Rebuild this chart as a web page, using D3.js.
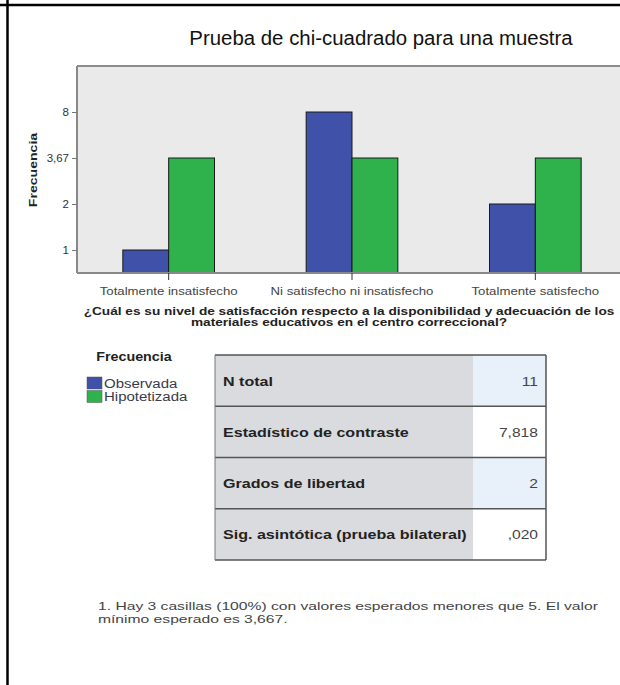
<!DOCTYPE html>
<html><head><meta charset="utf-8">
<script src="https://cdn.jsdelivr.net/npm/d3@7"></script>
<style>
html,body{margin:0;padding:0;background:#fff;}
svg{display:block;font-family:"Liberation Sans",Arial,sans-serif;}
</style></head>
<body>
<svg id="c" width="620" height="685"></svg>
<script>
// ---- data ----
const categories = ["Totalmente insatisfecho", "Ni satisfecho ni insatisfecho", "Totalmente satisfecho"];
const seriesNames = ["Observada", "Hipotetizada"];
const observed = [1, 8, 2];
const hypothesized = [3.67, 3.67, 3.67];
const yTickValues = [1, 2, 3.67, 8];
const yTickLabels = ["1", "2", "3,67", "8"];
const tableLabels = ["N total", "Estadístico de contraste", "Grados de libertad", "Sig. asintótica (prueba bilateral)"];
const tableValues = ["11", "7,818", "2", ",020"];

const colors = ["#3f51a8", "#2fb24c"];

// horizontally widen glyphs (the reference renders text stretched)
function stretch(sel, f) {
  sel.each(function () {
    const w = this.getComputedTextLength();
    d3.select(this).attr("textLength", w * f).attr("lengthAdjust", "spacingAndGlyphs");
  });
  return sel;
}

const svg = d3.select("#c");

// page frame lines
svg.append("line").attr("x1",0).attr("x2",620).attr("y1",5).attr("y2",5).attr("stroke","#000").attr("stroke-width",2.5);
svg.append("line").attr("x1",7.5).attr("x2",7.5).attr("y1",0).attr("y2",685).attr("stroke","#000").attr("stroke-width",2.5);

// title
stretch(svg.append("text").attr("x",381).attr("y",45).attr("text-anchor","middle")
  .attr("font-size",20).attr("fill","#111").text("Prueba de chi-cuadrado para una muestra"), 1.02);

// plot geometry
const pl = 77, pr = 627, pt = 66, pb = 273;
svg.append("rect").attr("x",pl).attr("y",pt).attr("width",pr-pl).attr("height",pb-pt).attr("fill","#eaeaea");
svg.append("line").attr("x1",pl).attr("x2",pr).attr("y1",pt).attr("y2",pt).attr("stroke","#8c8c8c").attr("stroke-width",2);

// scales
const x0 = d3.scaleBand().domain(categories).range([pl, pr]).paddingInner(0.5).paddingOuter(0.25);
const x1 = d3.scaleBand().domain(seriesNames).range([0, x0.bandwidth()]);
const yPoint = d3.scalePoint().domain(yTickValues).range([pb - 23, pt + 46]);
const y = d3.scaleLinear().domain([0, ...yTickValues]).range([pb, ...yTickValues.map(v => yPoint(v))]);

// bars
const rows = categories.map((c,i) => ({c, vals:[observed[i], hypothesized[i]]}));
const g = svg.append("g");
rows.forEach(r => {
  r.vals.forEach((v,j) => {
    g.append("rect")
      .attr("x", x0(r.c) + x1(seriesNames[j]))
      .attr("y", y(v))
      .attr("width", x1.bandwidth())
      .attr("height", pb - y(v))
      .attr("fill", colors[j])
      .attr("stroke", "#1a1a1a").attr("stroke-width", 1);
  });
});

// y axis
const yAxis = d3.axisLeft(y).tickValues(yTickValues).tickSize(5).tickPadding(3)
  .tickFormat(d => yTickLabels[yTickValues.indexOf(d)]);
const ya = svg.append("g").attr("transform",`translate(${pl},0)`).call(yAxis);
ya.select(".domain").attr("stroke","#888").attr("stroke-width",2).attr("d",`M0,${pt}V${pb}`);
ya.selectAll(".tick line").attr("stroke","#777");
stretch(ya.selectAll(".tick text").attr("font-size",10).attr("fill","#333")
  .attr("font-family","Liberation Sans, Arial, sans-serif"), 1.15);

// x axis
const xAxis = d3.axisBottom(x0).tickSize(7).tickPadding(7);
const xa = svg.append("g").attr("transform",`translate(0,${pb})`).call(xAxis);
xa.select(".domain").attr("stroke","#888").attr("stroke-width",2).attr("d",`M${pl},0H${pr}`);
xa.selectAll(".tick line").attr("stroke","#333");
stretch(xa.selectAll(".tick text").attr("font-size",11).attr("fill","#444")
  .attr("font-family","Liberation Sans, Arial, sans-serif"), 1.2);

// axis titles
stretch(svg.append("text").attr("transform","translate(37,170) rotate(-90)").attr("text-anchor","middle")
  .attr("font-size",11).attr("font-weight","bold").attr("fill","#222").text("Frecuencia"), 1.28);
stretch(svg.append("text").attr("x",349).attr("y",314.5).attr("text-anchor","middle")
  .attr("font-size",11).attr("font-weight","bold").attr("fill","#222")
  .text("¿Cuál es su nivel de satisfacción respecto a la disponibilidad y adecuación de los"), 1.24);
stretch(svg.append("text").attr("x",349).attr("y",325.5).attr("text-anchor","middle")
  .attr("font-size",11).attr("font-weight","bold").attr("fill","#222")
  .text("materiales educativos en el centro correccional?"), 1.24);

// legend
stretch(svg.append("text").attr("x",134).attr("y",361).attr("text-anchor","middle")
  .attr("font-size",12).attr("font-weight","bold").attr("fill","#222").text("Frecuencia"), 1.19);
seriesNames.forEach((s,i) => {
  const ly = 377 + i*13.5;
  svg.append("rect").attr("x",87).attr("y",ly).attr("width",15).attr("height",12)
    .attr("fill",colors[i]).attr("stroke","#555").attr("stroke-width",0.5);
  stretch(svg.append("text").attr("x",104).attr("y",ly+10.5).attr("font-size",12)
    .attr("fill","#3a3a4a").text(s), 1.25);
});

// table
const tx = 215, tw = 331, tv = 473, ty = 355;
const ty2 = d3.scaleBand().domain(d3.range(tableLabels.length)).range([ty, 560]);
const rh = ty2.bandwidth();
tableLabels.forEach((lab,i) => {
  const yy = ty2(i);
  svg.append("rect").attr("x",tx).attr("y",yy).attr("width",tv-tx).attr("height",rh).attr("fill","#dadbde");
  svg.append("rect").attr("x",tv).attr("y",yy).attr("width",tx+tw-tv).attr("height",rh).attr("fill", i%2===0 ? "#e8f0fa" : "#ffffff");
  stretch(svg.append("text").attr("x",tx+8).attr("y",yy+rh/2+5).attr("font-size",13.5)
    .attr("font-weight","bold").attr("fill","#222").text(lab), 1.19);
  stretch(svg.append("text").attr("x",tx+tw-8).attr("y",yy+rh/2+5).attr("text-anchor","end").attr("font-size",13)
    .attr("fill","#444").text(tableValues[i]), 1.2);
});
d3.range(tableLabels.length+1).forEach(i => {
  const yy = i < tableLabels.length ? ty2(i) : 560;
  svg.append("line").attr("x1",tx).attr("x2",tx+tw).attr("y1",yy).attr("y2",yy).attr("stroke","#555").attr("stroke-width",1.5);
});
svg.append("line").attr("x1",tx).attr("x2",tx).attr("y1",ty).attr("y2",560).attr("stroke","#777").attr("stroke-width",1);
svg.append("line").attr("x1",tx+tw).attr("x2",tx+tw).attr("y1",ty).attr("y2",560).attr("stroke","#555").attr("stroke-width",1.5);

// footnote
stretch(svg.append("text").attr("x",98).attr("y",609.5).attr("font-size",11.5).attr("fill","#444")
  .text("1.  Hay 3 casillas (100%) con valores esperados menores que 5.  El valor"), 1.36);
stretch(svg.append("text").attr("x",98).attr("y",622.5).attr("font-size",11.5).attr("fill","#444")
  .text("mínimo esperado es 3,667."), 1.36);
</script>
</body></html>
